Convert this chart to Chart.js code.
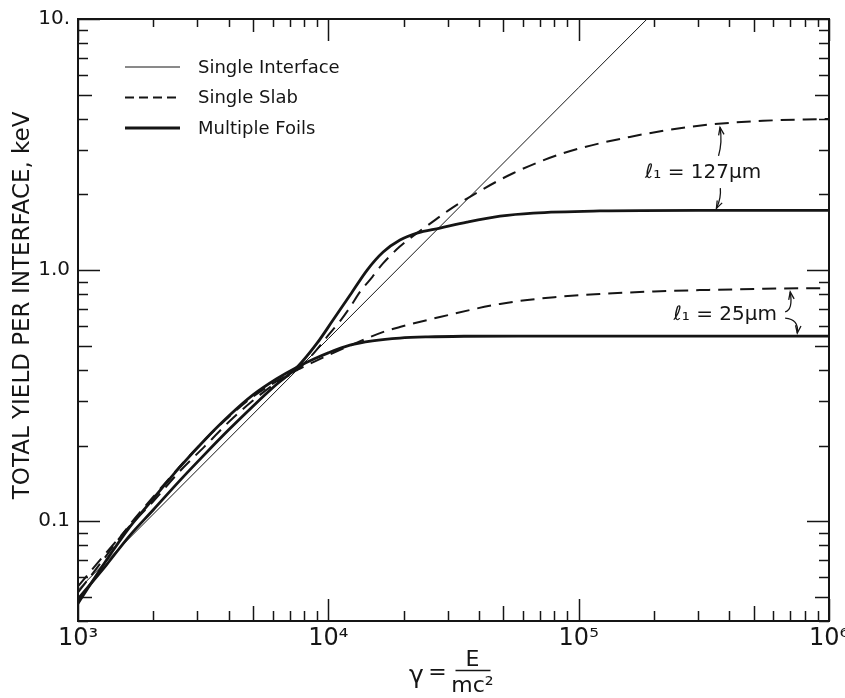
<!DOCTYPE html>
<html>
<head>
<meta charset="utf-8">
<title>Total yield per interface</title>
<script src="https://cdn.jsdelivr.net/npm/chart.js@4.4.0/dist/chart.umd.min.js"></script>
<style>
html, body { margin: 0; padding: 0; background: #fff; }
#wrap { width: 845px; height: 698px; }
</style>
</head>
<body>
<div id="wrap"><canvas id="yield-chart" width="845" height="698"></canvas></div>
<script>
// readings: gamma = E/mc^2 and total yield per interface (keV)
var gammaSingle = [1000, 10000, 100000, 187600];
var yieldSingle = [0.0533, 0.533, 5.33, 10.0];

var gammaSlab127 = [1000, 1300, 1600, 2000, 2550, 3200, 4000, 5000, 6200, 7500, 8800, 10000, 11200, 12200, 13400, 15000, 16500, 19300, 22300, 25500, 30000, 37800, 54700, 86700, 160000, 297000, 545000, 1000000];
var yieldSlab127 = [0.055, 0.075, 0.095, 0.12, 0.158, 0.198, 0.248, 0.302, 0.356, 0.40, 0.47, 0.55, 0.63, 0.71, 0.82, 0.94, 1.06, 1.24, 1.39, 1.53, 1.72, 1.99, 2.43, 2.92, 3.39, 3.75, 3.93, 4.00];

var gammaFoils127 = [1000, 1300, 1600, 2000, 2550, 3200, 4000, 5000, 6200, 7500, 9000, 10440, 12220, 14290, 16560, 19330, 22590, 27900, 35800, 48500, 65800, 121600, 300000, 1000000];
var yieldFoils127 = [0.049, 0.067, 0.087, 0.111, 0.145, 0.184, 0.231, 0.287, 0.35, 0.41, 0.51, 0.632, 0.795, 1.0, 1.18, 1.317, 1.404, 1.47, 1.553, 1.64, 1.687, 1.72, 1.73, 1.73];

var gammaSlab25 = [1000, 1300, 1600, 2000, 2550, 3200, 4000, 5000, 6200, 7500, 8800, 10000, 12200, 16500, 19300, 27900, 48500, 80000, 121600, 200000, 305000, 550000, 1000000];
var yieldSlab25 = [0.052, 0.073, 0.096, 0.125, 0.165, 0.21, 0.26, 0.313, 0.36, 0.40, 0.432, 0.458, 0.50, 0.566, 0.593, 0.65, 0.733, 0.78, 0.803, 0.822, 0.832, 0.842, 0.848];

var gammaFoils25 = [1000, 1300, 1600, 2000, 2550, 3200, 4000, 5000, 6200, 7500, 8800, 10000, 12200, 15000, 19300, 25000, 35000, 60000, 1000000];
var yieldFoils25 = [0.047, 0.07, 0.094, 0.123, 0.164, 0.21, 0.262, 0.318, 0.368, 0.41, 0.443, 0.468, 0.502, 0.522, 0.536, 0.542, 0.545, 0.546, 0.546];

var xDecades = [1000, 10000, 100000, 1000000];
var xDecadeLabels = ['10³', '10⁴', '10⁵', '10⁶'];
var yDecades = [0.1, 1, 10];
var yDecadeLabels = ['0.1', '1.0', '10.'];
var noteLabels = ['ℓ₁ = 127μm', 'ℓ₁ = 25μm'];

var ink = '#151515';
var fontFamily = "'DejaVu Sans', 'Liberation Sans', sans-serif";

function pts(xs, ys) {
	return xs.map(function(x, i) { return {x: x, y: ys[i]}; });
}

// 1..9 x 10^n tick positions between lo and hi
function logTicks(lo, hi) {
	var out = [];
	for (var e = Math.floor(Math.log10(lo)); e <= Math.ceil(Math.log10(hi)); e++) {
		for (var m = 1; m <= 9; m++) {
			var v = Number((m * Math.pow(10, e)).toPrecision(3));
			if (v >= lo - 1e-9 && v <= hi + 1e-9) out.push(v);
		}
	}
	return out;
}
var xTickValues = logTicks(1000, 1000000);
var yTickValues = logTicks(0.04, 10);

function mantissa(v) {
	return Math.round(v / Math.pow(10, Math.floor(Math.log10(v) + 1e-9)));
}
function findLabel(v, list, labels) {
	for (var i = 0; i < list.length; i++) {
		if (Math.abs(v - list[i]) < list[i] * 1e-6) return labels[i];
	}
	return '';
}

// inward ticks on all four sides plus the frame
var frameTicks = {
	id: 'frameTicks',
	afterDatasetsDraw: function(chart) {
		var ctx = chart.ctx, a = chart.chartArea, xs = chart.scales.x, ys = chart.scales.y;
		ctx.save();
		ctx.strokeStyle = ink;
		ctx.lineWidth = 1.5;
		ctx.beginPath();
		xTickValues.forEach(function(v) {
			var p = Math.round(xs.getPixelForValue(v)) + 0.5;
			var m = mantissa(v);
			var lb = m === 1 ? 22 : (m === 5 ? 15 : 10);
			var lt = m === 1 ? 22 : (m === 5 ? 13 : 8);
			ctx.moveTo(p, a.bottom); ctx.lineTo(p, a.bottom - lb);
			ctx.moveTo(p, a.top); ctx.lineTo(p, a.top + lt);
		});
		yTickValues.forEach(function(v) {
			var p = Math.round(ys.getPixelForValue(v)) + 0.5;
			var m = mantissa(v);
			var l = m === 1 ? 22 : (m === 5 ? 14 : 10);
			ctx.moveTo(a.left, p); ctx.lineTo(a.left + l, p);
			ctx.moveTo(a.right, p); ctx.lineTo(a.right - l, p);
		});
		ctx.stroke();
		ctx.lineWidth = 2;
		ctx.strokeRect(a.left, a.top, a.right - a.left, a.bottom - a.top);
		ctx.restore();
	}
};

// legend inside the frame, top left
var insetLegend = {
	id: 'insetLegend',
	afterDatasetsDraw: function(chart) {
		var ctx = chart.ctx, a = chart.chartArea;
		ctx.save();
		ctx.font = '18px ' + fontFamily;
		ctx.textBaseline = 'middle';
		ctx.fillStyle = ink;
		for (var i = 0; i < 3; i++) {
			var ds = chart.data.datasets[i];
			var y = a.top + 48 + i * 30.5;
			ctx.lineWidth = ds.borderWidth;
			ctx.strokeStyle = ink;
			ctx.setLineDash(ds.borderDash ? [9, 5] : []);
			ctx.beginPath();
			ctx.moveTo(a.left + 47, y);
			ctx.lineTo(a.left + 102, y);
			ctx.stroke();
			ctx.fillText(ds.label, a.left + 120, y + 1);
		}
		ctx.restore();
	}
};

function arrow(ctx, x0, y0, cx, cy, x1, y1) {
	ctx.beginPath();
	ctx.moveTo(x0, y0);
	ctx.quadraticCurveTo(cx, cy, x1, y1);
	ctx.stroke();
	var ang = Math.atan2(y1 - cy, x1 - cx);
	ctx.beginPath();
	ctx.moveTo(x1 - 8 * Math.cos(ang - 0.35), y1 - 8 * Math.sin(ang - 0.35));
	ctx.lineTo(x1, y1);
	ctx.lineTo(x1 - 8 * Math.cos(ang + 0.35), y1 - 8 * Math.sin(ang + 0.35));
	ctx.stroke();
}

// foil thickness notes with their arrows
var thicknessNotes = {
	id: 'thicknessNotes',
	afterDatasetsDraw: function(chart) {
		var ctx = chart.ctx, xs = chart.scales.x, ys = chart.scales.y;
		function X(v) { return xs.getPixelForValue(v); }
		function Y(v) { return ys.getPixelForValue(v); }
		ctx.save();
		ctx.fillStyle = ink;
		ctx.strokeStyle = ink;
		ctx.lineWidth = 1.3;
		ctx.font = '20px ' + fontFamily;
		ctx.textAlign = 'center';
		ctx.textBaseline = 'middle';
		ctx.fillText(noteLabels[0], X(3.14e5), Y(2.43));
		ctx.fillText(noteLabels[1], X(3.85e5), Y(0.662));

		arrow(ctx, X(3.62e5), Y(2.85), X(3.62e5) + 4, (Y(2.85) + Y(3.7)) / 2, X(3.67e5), Y(3.7));
		arrow(ctx, X(3.68e5), Y(2.12), X(3.68e5) + 1, (Y(2.12) + Y(1.76)) / 2, X(3.55e5), Y(1.76));

		arrow(ctx, X(6.68e5), Y(0.681), X(6.68e5) + 8, Y(0.681) - 2, X(7.0e5), Y(0.818));
		arrow(ctx, X(6.68e5), Y(0.644), X(6.68e5) + 14, Y(0.644) + 1, X(7.47e5), Y(0.561));
		ctx.restore();
	}
};

// x axis title: gamma = E / mc^2
var gammaTitle = {
	id: 'gammaTitle',
	afterDraw: function(chart) {
		var ctx = chart.ctx, a = chart.chartArea;
		var cx = (a.left + a.right) / 2;
		var by = a.bottom;
		ctx.save();
		ctx.fillStyle = ink;
		ctx.strokeStyle = ink;
		ctx.font = '22px ' + fontFamily;
		ctx.textAlign = 'center';
		ctx.textBaseline = 'middle';
		ctx.font = '25px ' + fontFamily;
		ctx.fillText('γ', cx - 37, by + 55);
		ctx.font = '22px ' + fontFamily;
		ctx.fillText('=', cx - 16, by + 52);
		ctx.fillText('E', cx + 19, by + 39);
		ctx.fillText('mc²', cx + 19, by + 65);
		ctx.lineWidth = 1.5;
		ctx.beginPath();
		ctx.moveTo(cx + 2, by + 49.5);
		ctx.lineTo(cx + 37, by + 49.5);
		ctx.stroke();
		ctx.restore();
	}
};

var ctx = document.getElementById('yield-chart').getContext('2d');
var yieldChart = new Chart(ctx, {
	type: 'line',
	data: {
		datasets: [{
			label: 'Single Interface',
			data: pts(gammaSingle, yieldSingle),
			borderColor: ink,
			borderWidth: 1,
			tension: 0
		}, {
			label: 'Single Slab',
			data: pts(gammaSlab127, yieldSlab127),
			borderColor: ink,
			borderWidth: 2,
			borderDash: [14, 8],
			cubicInterpolationMode: 'monotone'
		}, {
			label: 'Multiple Foils',
			data: pts(gammaFoils127, yieldFoils127),
			borderColor: ink,
			borderWidth: 2.8,
			cubicInterpolationMode: 'monotone'
		}, {
			label: 'Single Slab',
			data: pts(gammaSlab25, yieldSlab25),
			borderColor: ink,
			borderWidth: 2,
			borderDash: [14, 8],
			cubicInterpolationMode: 'monotone'
		}, {
			label: 'Multiple Foils',
			data: pts(gammaFoils25, yieldFoils25),
			borderColor: ink,
			borderWidth: 2.8,
			cubicInterpolationMode: 'monotone'
		}]
	},
	options: {
		responsive: false,
		animation: false,
		layout: { padding: { top: 19, right: 16, left: 0, bottom: 0 } },
		elements: { point: { radius: 0, hoverRadius: 0 } },
		plugins: {
			legend: { display: false },
			tooltip: { enabled: false }
		},
		scales: {
			x: {
				type: 'logarithmic',
				min: 1000,
				max: 1000000,
				grid: { display: false, drawTicks: false },
				border: { display: false },
				afterBuildTicks: function(scale) {
					scale.ticks = xTickValues.map(function(v) { return {value: v}; });
				},
				ticks: {
					autoSkip: false,
					maxRotation: 0,
					padding: 3,
					color: ink,
					font: { family: fontFamily, size: 24 },
					callback: function(v) { return findLabel(v, xDecades, xDecadeLabels); }
				},
				afterFit: function(scale) {
					scale.height = 77;
					scale.paddingLeft = 0;
					scale.paddingRight = 0;
				}
			},
			y: {
				type: 'logarithmic',
				min: 0.04,
				max: 10,
				grid: { display: false, drawTicks: false },
				border: { display: false },
				afterBuildTicks: function(scale) {
					scale.ticks = yTickValues.map(function(v) { return {value: v}; });
				},
				ticks: {
					autoSkip: false,
					padding: 8,
					color: ink,
					font: { family: fontFamily, size: 20 },
					callback: function(v) { return findLabel(v, yDecades, yDecadeLabels); }
				},
				title: {
					display: true,
					// leading spaces lift the centred title a little, as in the original
					text: '\u00a0\u00a0\u00a0\u00a0TOTAL YIELD PER INTERFACE, keV',
					color: ink,
					font: { family: fontFamily, size: 23 },
					padding: { top: 9, bottom: 0 }
				},
				afterFit: function(scale) {
					scale.width = 78;
					scale.paddingTop = 0;
					scale.paddingBottom = 0;
				}
			}
		}
	},
	plugins: [frameTicks, insetLegend, thicknessNotes, gammaTitle]
});
</script>
</body>
</html>
